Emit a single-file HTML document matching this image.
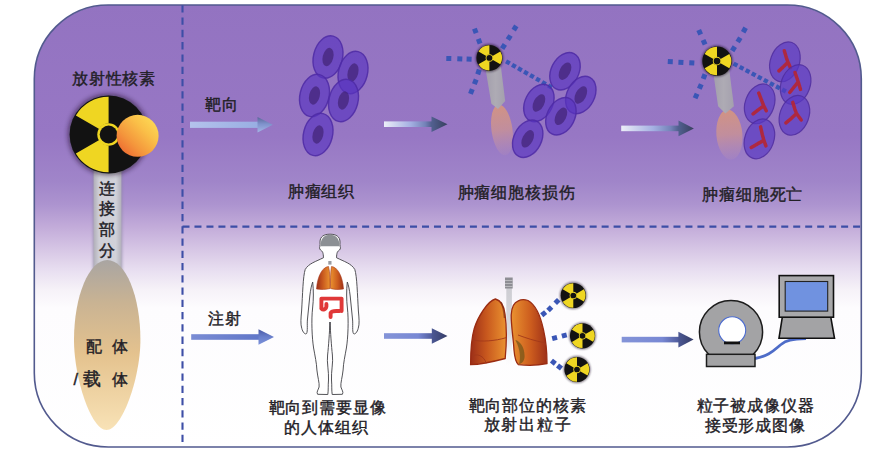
<!DOCTYPE html>
<html><head><meta charset="utf-8"><style>
html,body{margin:0;padding:0;background:#fff;}
body{width:894px;height:453px;overflow:hidden;font-family:"Liberation Sans",sans-serif;}
svg{display:block;font-family:"Liberation Sans",sans-serif;}
</style></head><body>
<svg width="894" height="453" viewBox="0 0 894 453">
<defs>
<linearGradient id="bg" x1="0" y1="0" x2="0" y2="453" gradientUnits="userSpaceOnUse"><stop offset="0" stop-color="#9373c1"/><stop offset=".3" stop-color="#9777c4"/><stop offset=".4" stop-color="#a085c9"/><stop offset=".45" stop-color="#ac93cf"/><stop offset=".5" stop-color="#c2abd9"/><stop offset=".56" stop-color="#dacbe7"/><stop offset=".6" stop-color="#e9e0f1"/><stop offset=".64" stop-color="#f6f2f8"/><stop offset=".68" stop-color="#fdfcfe"/><stop offset="1" stop-color="#fff"/></linearGradient>
<linearGradient id="a1" x1="0" x2="1"><stop offset="0" stop-color="#b4c2ec"/><stop offset="1" stop-color="#98aee2"/></linearGradient>
<linearGradient id="aD" x1="0" x2="1"><stop offset="0" stop-color="#eceef8"/><stop offset=".55" stop-color="#a4b0e2"/><stop offset=".85" stop-color="#7482b8"/><stop offset="1" stop-color="#4c5a88"/></linearGradient>
<linearGradient id="aB1" x1="0" x2="1"><stop offset="0" stop-color="#7a8cd4"/><stop offset="1" stop-color="#6076c8"/></linearGradient>
<linearGradient id="aB2" x1="0" x2="1"><stop offset="0" stop-color="#8494d8"/><stop offset=".7" stop-color="#7888d4"/><stop offset="1" stop-color="#4e5a9a"/></linearGradient>
<linearGradient id="h1" x1="0" y1="0" x2="0" y2="1"><stop offset="0" stop-color="#5a6698"/><stop offset=".45" stop-color="#7f92cc"/><stop offset="1" stop-color="#a4b6e6"/></linearGradient>
<linearGradient id="hD" x1="0" y1="0" x2="1" y2="0"><stop offset="0" stop-color="#526090"/><stop offset="1" stop-color="#38405e"/></linearGradient>
<linearGradient id="hB1" x1="0" y1="0" x2="0" y2="1"><stop offset="0" stop-color="#4a5aa6"/><stop offset=".5" stop-color="#6a80cc"/><stop offset="1" stop-color="#7c92da"/></linearGradient>
<linearGradient id="hB2" x1="0" y1="0" x2="1" y2="0"><stop offset="0" stop-color="#4c5894"/><stop offset="1" stop-color="#353c66"/></linearGradient>
<linearGradient id="ball" x1="1" y1="0" x2="0" y2="1"><stop offset="0" stop-color="#fee45a"/><stop offset=".35" stop-color="#fac048"/><stop offset=".65" stop-color="#f4963c"/><stop offset="1" stop-color="#ea582c"/></linearGradient>
<linearGradient id="ell" x1="0" y1="0" x2="0" y2="1"><stop offset="0" stop-color="#a9a5a2"/><stop offset=".25" stop-color="#c9b393"/><stop offset=".55" stop-color="#e4c28e"/><stop offset="1" stop-color="#f8e2b6"/></linearGradient>
<linearGradient id="bar" x1="0" x2="1"><stop offset="0" stop-color="#b0aeb8"/><stop offset=".2" stop-color="#cfcfd7"/><stop offset=".8" stop-color="#d1d1d9"/><stop offset="1" stop-color="#b2b0ba"/></linearGradient>
<linearGradient id="shaftg" x1="0" x2="1"><stop offset="0" stop-color="#a29eac"/><stop offset=".5" stop-color="#aeabb4"/><stop offset="1" stop-color="#a4a0ae"/></linearGradient>
<linearGradient id="peach" x1="0" y1="0" x2="0" y2="1"><stop offset="0" stop-color="#dc9878" stop-opacity=".85"/><stop offset=".5" stop-color="#d89a88" stop-opacity=".65"/><stop offset="1" stop-color="#d0a0a8" stop-opacity=".1"/></linearGradient>
<radialGradient id="lung" cx=".62" cy=".4" r=".75"><stop offset="0" stop-color="#f39a2c"/><stop offset=".55" stop-color="#e0701e"/><stop offset="1" stop-color="#b8421a"/></radialGradient>
<radialGradient id="lung2" cx=".4" cy=".4" r=".75"><stop offset="0" stop-color="#f39a2c"/><stop offset=".55" stop-color="#e0701e"/><stop offset="1" stop-color="#b8421a"/></radialGradient>
<radialGradient id="slung" cx=".55" cy=".45" r=".7"><stop offset="0" stop-color="#f0952e"/><stop offset=".6" stop-color="#d86a22"/><stop offset="1" stop-color="#a8401e"/></radialGradient>
<filter id="blurL" x="-50%" y="-50%" width="200%" height="200%"><feGaussianBlur stdDeviation="2.6"/></filter>
<filter id="blurS" x="-50%" y="-50%" width="200%" height="200%"><feGaussianBlur stdDeviation="1.3"/></filter>
<g id="rad"><circle r="1" fill="#121212"/><path d="M0.24 -0.14L0.84 -0.49A0.97 0.97 0 0 1 0.84 0.48L0.24 0.14A0.28 0.28 0 0 0 0.24 -0.14ZM0 0.28L0 0.97A0.97 0.97 0 0 1 -0.84 0.49L-0.24 0.14A0.28 0.28 0 0 0 0 0.28ZM-0.24 -0.14L-0.84 -0.49A0.97 0.97 0 0 1 -0 -0.97L-0 -0.28A0.28 0.28 0 0 0 -0.24 -0.14Z" fill="#efd622"/><circle r=".29" fill="#efd622"/><circle r=".228" fill="#121212"/></g>
<filter id="soft" x="-50%" y="-50%" width="200%" height="200%"><feGaussianBlur stdDeviation=".45"/></filter>
<path id="chrom0" d="M-0.6 -11 L1.5 -4 L3.1 0.5 L-1.5 5 L-6 9.1 M3.1 0.5 L5.5 6" fill="none" stroke="#b42636" stroke-width="3.5" stroke-linecap="round" stroke-linejoin="round" filter="url(#soft)" opacity=".92"/>
<path id="chrom1" d="M-0.6 -12 L2.6 -2.8 L-1.5 2.5 L-5.9 8 M2.6 -2.8 L4.9 4.9" fill="none" stroke="#b42636" stroke-width="3.5" stroke-linecap="round" stroke-linejoin="round" filter="url(#soft)" opacity=".92"/>
<path id="chrom2" d="M-0.9 -10.7 L2.5 -2 L4 2 L-1.5 6 L-6.6 10 M4 2 L6.5 7" fill="none" stroke="#b42636" stroke-width="3.5" stroke-linecap="round" stroke-linejoin="round" filter="url(#soft)" opacity=".92"/>
<path id="chrom3" d="M-1.6 -12.9 L0.5 -6 L2.1 -1.8 L-3 3 L-8.5 7.5 M2.1 -1.8 L6.8 4.7" fill="none" stroke="#b42636" stroke-width="3.5" stroke-linecap="round" stroke-linejoin="round" filter="url(#soft)" opacity=".92"/>
<path id="chrom4" d="M1.2 -12 L3 -4 L4.5 1.5 L-2 5 L-8.1 8.6 M4.5 1.5 L6.5 7" fill="none" stroke="#b42636" stroke-width="3.5" stroke-linecap="round" stroke-linejoin="round" filter="url(#soft)" opacity=".92"/>
</defs>
<rect x="34.3" y="5" width="827" height="442" rx="74" ry="74" fill="url(#bg)" stroke="#525a8e" stroke-width="1.6"/>
<path d="M182.5 5.3V447" stroke="#3d4ea6" stroke-width="2.1" stroke-dasharray="7.3 4.97" fill="none"/>
<path d="M182.5 226.7H861" stroke="#3d4ea6" stroke-width="2.2" stroke-dasharray="7 4.975" fill="none"/>
<text x="114" y="84" font-size="15.7" text-anchor="middle" fill="#222026" letter-spacing="0.85" font-weight="400" stroke="#222026" stroke-width="0.4">放射性核素</text>
<rect x="92.5" y="165" width="30" height="110" fill="#8a86a0" opacity=".55" filter="url(#blurS)"/>
<rect x="93.6" y="165" width="27.8" height="110" fill="url(#bar)"/>
<path d="M107.3 260C125.6 260 140.4 296 140.4 340C140.4 378 122 430 106.5 430C91 430 74 378 74 340C74 296 89 260 107.3 260Z" fill="url(#ell)"/>
<circle cx="108.6" cy="134.5" r="40.5" fill="#1a1020" opacity="0.6" filter="url(#blurL)"/><g transform="translate(108.6 134.5) scale(39)"><use href="#rad"/></g>
<circle cx="137.6" cy="135.8" r="21" fill="url(#ball)"/>
<text x="107.5" y="193.8" font-size="15.7" text-anchor="middle" fill="#222026" letter-spacing="0.85" font-weight="400" stroke="#222026" stroke-width="0.4">连</text>
<text x="107.5" y="214.2" font-size="15.7" text-anchor="middle" fill="#222026" letter-spacing="0.85" font-weight="400" stroke="#222026" stroke-width="0.4">接</text>
<text x="107.5" y="234.6" font-size="15.7" text-anchor="middle" fill="#222026" letter-spacing="0.85" font-weight="400" stroke="#222026" stroke-width="0.4">部</text>
<text x="107.5" y="255.8" font-size="15.7" text-anchor="middle" fill="#222026" letter-spacing="0.85" font-weight="400" stroke="#222026" stroke-width="0.4">分</text>
<text x="86" y="352" font-size="15.7" text-anchor="start" fill="#222026" letter-spacing="0.85" font-weight="400" stroke="#222026" stroke-width="0.4">配</text>
<text x="111.6" y="352" font-size="15.7" text-anchor="start" fill="#222026" letter-spacing="0.85" font-weight="400" stroke="#222026" stroke-width="0.4">体</text>
<text x="73.5" y="384.5" font-size="16.5" text-anchor="start" fill="#222026" letter-spacing="0.85" font-weight="400" stroke="#222026" stroke-width="0.4">/</text>
<text x="82.5" y="384.8" font-size="17.5" text-anchor="start" fill="#222026" letter-spacing="0.85" font-weight="400" stroke="#222026" stroke-width="0.4">载</text>
<text x="111.6" y="384.5" font-size="15.7" text-anchor="start" fill="#222026" letter-spacing="0.85" font-weight="400" stroke="#222026" stroke-width="0.4">体</text>
<text x="205" y="109.5" font-size="15.7" text-anchor="start" fill="#222026" letter-spacing="1.2" font-weight="400" stroke="#222026" stroke-width="0.4">靶向</text>
<rect x="190" y="121.7" width="68.5" height="6.2" fill="url(#a1)"/><path d="M257.5 117L272.8 124.8L257.5 132.6Z" fill="url(#h1)"/>
<g transform="translate(328 57) rotate(14)"><ellipse rx="14.5" ry="21.5" fill="rgba(88,52,192,.66)" stroke="rgba(78,42,165,.85)" stroke-width="1.4"/><ellipse rx="5.3" ry="9.4" fill="rgba(66,36,118,.72)"/></g>
<g transform="translate(353 72.5) rotate(14)"><ellipse rx="14.5" ry="21.5" fill="rgba(88,52,192,.66)" stroke="rgba(78,42,165,.85)" stroke-width="1.4"/><ellipse rx="5.3" ry="9.4" fill="rgba(66,36,118,.72)"/></g>
<g transform="translate(314.5 95.5) rotate(14)"><ellipse rx="14.5" ry="21.5" fill="rgba(88,52,192,.66)" stroke="rgba(78,42,165,.85)" stroke-width="1.4"/><ellipse rx="5.3" ry="9.4" fill="rgba(66,36,118,.72)"/></g>
<g transform="translate(343.5 100.5) rotate(14)"><ellipse rx="14.5" ry="21.5" fill="rgba(88,52,192,.66)" stroke="rgba(78,42,165,.85)" stroke-width="1.4"/><ellipse rx="5.3" ry="9.4" fill="rgba(66,36,118,.72)"/></g>
<g transform="translate(318 134.5) rotate(14)"><ellipse rx="14.5" ry="21.5" fill="rgba(88,52,192,.66)" stroke="rgba(78,42,165,.85)" stroke-width="1.4"/><ellipse rx="5.3" ry="9.4" fill="rgba(66,36,118,.72)"/></g>
<text x="321.5" y="196.5" font-size="15.7" text-anchor="middle" fill="#222026" letter-spacing="0.85" font-weight="400" stroke="#222026" stroke-width="0.4">肿瘤组织</text>
<rect x="384" y="121.4" width="48.5" height="5.6" fill="url(#aD)"/><path d="M431.5 116.4L447.5 124.2L431.5 132Z" fill="url(#hD)"/>
<ellipse cx="502" cy="130" rx="10.5" ry="25.5" fill="url(#peach)" transform="rotate(-8 502 130)"/>
<path d="M485.7 70L500.9 66.5L505.2 101L498 109L491.4 103.8Z" fill="url(#shaftg)"/>
<rect x="472.8" y="28.4" width="5" height="5" fill="#3a56b6" transform="rotate(69.26 475.3 30.9)"/><rect x="476.7" y="38.7" width="5" height="5" fill="#3a56b6" transform="rotate(-110.74 479.2 41.2)"/>
<rect x="512.5" y="25.5" width="5" height="5" fill="#3a56b6" transform="rotate(121.14 515 28)"/><rect x="506.7" y="35.1" width="5" height="5" fill="#3a56b6" transform="rotate(122.64 509.2 37.6)"/><rect x="501" y="44" width="5" height="5" fill="#3a56b6" transform="rotate(-57.36 503.5 46.5)"/>
<rect x="446.3" y="56" width="5" height="5" fill="#3a56b6" transform="rotate(1.56 448.8 58.5)"/><rect x="457.3" y="56.3" width="5" height="5" fill="#3a56b6" transform="rotate(2.46 459.8 58.8)"/><rect x="466.6" y="56.7" width="5" height="5" fill="#3a56b6" transform="rotate(-177.54 469.1 59.2)"/>
<rect x="476" y="69.5" width="5" height="5" fill="#3a56b6" transform="rotate(108.08 478.5 72)"/><rect x="472.8" y="79.3" width="5" height="5" fill="#3a56b6" transform="rotate(111.9 475.3 81.8)"/><rect x="468.9" y="89" width="5" height="5" fill="#3a56b6" transform="rotate(-68.1 471.4 91.5)"/>
<rect x="505.75" y="60.25" width="4.3" height="4.3" fill="#3a56b6" transform="rotate(29.79 507.9 62.4)"/><rect x="511.76" y="63.69" width="4.3" height="4.3" fill="#3a56b6" transform="rotate(29.79 513.91 65.84)"/><rect x="517.78" y="67.14" width="4.3" height="4.3" fill="#3a56b6" transform="rotate(29.79 519.93 69.29)"/><rect x="523.79" y="70.58" width="4.3" height="4.3" fill="#3a56b6" transform="rotate(29.79 525.94 72.73)"/><rect x="529.81" y="74.02" width="4.3" height="4.3" fill="#3a56b6" transform="rotate(29.79 531.96 76.17)"/><rect x="535.82" y="77.46" width="4.3" height="4.3" fill="#3a56b6" transform="rotate(29.79 537.97 79.61)"/><rect x="541.84" y="80.91" width="4.3" height="4.3" fill="#3a56b6" transform="rotate(29.79 543.99 83.06)"/><rect x="547.85" y="84.35" width="4.3" height="4.3" fill="#3a56b6" transform="rotate(-150.21 550 86.5)"/>
<g transform="translate(565 71.2) rotate(27)"><ellipse rx="13.8" ry="19.8" fill="rgba(88,52,192,.66)" stroke="rgba(78,42,165,.85)" stroke-width="1.4"/><ellipse rx="5.3" ry="9.4" fill="rgba(66,36,118,.72)"/></g>
<g transform="translate(580.8 95) rotate(27)"><ellipse rx="13.8" ry="19.8" fill="rgba(88,52,192,.66)" stroke="rgba(78,42,165,.85)" stroke-width="1.4"/><ellipse rx="5.3" ry="9.4" fill="rgba(66,36,118,.72)"/></g>
<g transform="translate(538.9 103) rotate(27)"><ellipse rx="13.8" ry="19.8" fill="rgba(88,52,192,.66)" stroke="rgba(78,42,165,.85)" stroke-width="1.4"/><ellipse rx="5.3" ry="9.4" fill="rgba(66,36,118,.72)"/></g>
<g transform="translate(560.9 116.3) rotate(27)"><ellipse rx="13.8" ry="19.8" fill="rgba(88,52,192,.66)" stroke="rgba(78,42,165,.85)" stroke-width="1.4"/><ellipse rx="5.3" ry="9.4" fill="rgba(66,36,118,.72)"/></g>
<g transform="translate(527.7 138.8) rotate(27)"><ellipse rx="13.8" ry="19.8" fill="rgba(88,52,192,.66)" stroke="rgba(78,42,165,.85)" stroke-width="1.4"/><ellipse rx="5.3" ry="9.4" fill="rgba(66,36,118,.72)"/></g>
<circle cx="489.4" cy="57.9" r="13.8" fill="#1a1020" opacity="0.6" filter="url(#blurS)"/><g transform="translate(489.4 57.9) scale(13)"><use href="#rad"/></g>
<text x="516.5" y="198" font-size="15.7" text-anchor="middle" fill="#222026" letter-spacing="0.85" font-weight="400" stroke="#222026" stroke-width="0.4">肿瘤细胞核损伤</text>
<rect x="621.2" y="125.6" width="58.3" height="5.6" fill="url(#aD)"/><path d="M678.5 120.6L693.9 128.4L678.5 136.2Z" fill="url(#hD)"/>
<ellipse cx="729.4" cy="134.7" rx="13" ry="25" fill="url(#peach)" transform="rotate(-5 729.4 134.7)"/>
<path d="M713.2 72L729 67.5L733.9 106.2L725.4 113.5L718.1 106.2Z" fill="url(#shaftg)"/>
<rect x="697.2" y="29.8" width="5" height="5" fill="#3a56b6" transform="rotate(66.04 699.7 32.3)"/><rect x="701.6" y="39.7" width="5" height="5" fill="#3a56b6" transform="rotate(-113.96 704.1 42.2)"/>
<rect x="741.9" y="27.5" width="5" height="5" fill="#3a56b6" transform="rotate(118.61 744.4 30)"/><rect x="736.5" y="37.4" width="5" height="5" fill="#3a56b6" transform="rotate(121.72 739 39.9)"/><rect x="731" y="46.3" width="5" height="5" fill="#3a56b6" transform="rotate(-58.28 733.5 48.8)"/>
<rect x="667.8" y="59.2" width="5" height="5" fill="#3a56b6" transform="rotate(3.24 670.3 61.7)"/><rect x="678.4" y="59.8" width="5" height="5" fill="#3a56b6" transform="rotate(3.15 680.9 62.3)"/><rect x="689.3" y="60.4" width="5" height="5" fill="#3a56b6" transform="rotate(-176.85 691.8 62.9)"/>
<rect x="701.6" y="74.1" width="5" height="5" fill="#3a56b6" transform="rotate(111 704.1 76.6)"/><rect x="697.8" y="84" width="5" height="5" fill="#3a56b6" transform="rotate(113.85 700.3 86.5)"/><rect x="693.6" y="93.5" width="5" height="5" fill="#3a56b6" transform="rotate(-66.15 696.1 96)"/>
<rect x="733.35" y="62.55" width="4.3" height="4.3" fill="#3a56b6" transform="rotate(28.01 735.5 64.7)"/><rect x="739.41" y="65.77" width="4.3" height="4.3" fill="#3a56b6" transform="rotate(28.01 741.56 67.92)"/><rect x="745.48" y="69" width="4.3" height="4.3" fill="#3a56b6" transform="rotate(28.01 747.62 71.15)"/><rect x="751.54" y="72.22" width="4.3" height="4.3" fill="#3a56b6" transform="rotate(28.01 753.69 74.38)"/><rect x="757.6" y="75.45" width="4.3" height="4.3" fill="#3a56b6" transform="rotate(28.01 759.75 77.6)"/><rect x="763.66" y="78.67" width="4.3" height="4.3" fill="#3a56b6" transform="rotate(28.01 765.81 80.83)"/><rect x="769.73" y="81.9" width="4.3" height="4.3" fill="#3a56b6" transform="rotate(28.01 771.88 84.05)"/><rect x="775.79" y="85.12" width="4.3" height="4.3" fill="#3a56b6" transform="rotate(28.01 777.94 87.28)"/><rect x="781.85" y="88.35" width="4.3" height="4.3" fill="#3a56b6" transform="rotate(-151.99 784 90.5)"/>
<g transform="translate(784.9 61.8) rotate(20)"><ellipse rx="14.5" ry="20.5" fill="rgba(88,56,194,.68)" stroke="rgba(78,44,158,.82)" stroke-width="1.2"/></g><use href="#chrom0" transform="translate(784.9 61.8)"/>
<g transform="translate(795.6 84.5) rotate(20)"><ellipse rx="14.5" ry="20.5" fill="rgba(88,56,194,.68)" stroke="rgba(78,44,158,.82)" stroke-width="1.2"/></g><use href="#chrom1" transform="translate(795.6 84.5)"/>
<g transform="translate(759.7 103.8) rotate(20)"><ellipse rx="14.5" ry="20.5" fill="rgba(88,56,194,.68)" stroke="rgba(78,44,158,.82)" stroke-width="1.2"/></g><use href="#chrom2" transform="translate(759.7 103.8)"/>
<g transform="translate(794.4 115.3) rotate(20)"><ellipse rx="14.5" ry="20.5" fill="rgba(88,56,194,.68)" stroke="rgba(78,44,158,.82)" stroke-width="1.2"/></g><use href="#chrom3" transform="translate(794.4 115.3)"/>
<g transform="translate(759.4 138.9) rotate(20)"><ellipse rx="14.5" ry="20.5" fill="rgba(88,56,194,.68)" stroke="rgba(78,44,158,.82)" stroke-width="1.2"/></g><use href="#chrom4" transform="translate(759.4 138.9)"/>
<circle cx="717" cy="61.1" r="15.5" fill="#1a1020" opacity="0.6" filter="url(#blurS)"/><g transform="translate(717 61.1) scale(14.7)"><use href="#rad"/></g>
<text x="752.8" y="200" font-size="15.7" text-anchor="middle" fill="#222026" letter-spacing="0.85" font-weight="400" stroke="#222026" stroke-width="0.4">肿瘤细胞死亡</text>
<text x="208" y="323.5" font-size="15.7" text-anchor="start" fill="#222026" letter-spacing="0.85" font-weight="400" stroke="#222026" stroke-width="0.4">注射</text>
<rect x="191.2" y="334.2" width="68.3" height="5.6" fill="url(#aB1)"/><path d="M258.5 329.2L274 337L258.5 344.8Z" fill="url(#hB1)"/>
<path d="M330 234.2C324 234.2 320 236.5 320 242C320 244 320.2 245.5 319.8 246.5C319 248 320 250 321.5 250.8C322.6 251.4 323.3 253 323.5 257.7C316 261.5 308.5 263.5 305.2 269.5C303 276 302.6 295 301.6 311C301 318 300.3 324 301.8 328.5C302.8 332 305 335 306.6 333.5C307.8 331 307 325 307.4 320L309.8 296C310.5 290 311.5 285 312.7 282C313.6 290 313.6 300 312.6 308C311.2 320 312 338 313.6 348C315 356 316.6 363 316.9 370C317.6 377 319.6 383 319.1 387C318.2 390 316.2 392 317.6 394.3L327.8 394.5C328.5 390 328 386 328.5 380C329 372 326.6 362 327.6 355C328.6 346 329.5 332 330 322C330.5 332 331.4 346 332.4 355C333.4 362 331 372 331.5 380C332 386 331.5 390 332.2 394.5L342.4 394.3C343.8 392 341.8 390 340.9 387C340.4 383 342.4 377 343.1 370C343.4 363 345 356 346.4 348C348 338 348.8 320 347.4 308C346.4 300 346.4 290 347.3 282C348.5 285 349.5 290 350.2 296L352.6 320C353 325 352.2 331 353.4 333.5C355 335 357.2 332 358.2 328.5C359.7 324 359 318 358.4 311C357.4 295 357 276 354.8 269.5C351.5 263.5 344 261.5 336.5 257.7C336.7 253 337.4 251.4 338.5 250.8C340 250 341 248 340.2 246.5C339.8 245.5 340 244 340 242C340 236.5 336 234.2 330 234.2Z" fill="#fff" stroke="#4a4a4e" stroke-width=".95"/>
<path d="M330 322L330 330" stroke="#4a4a4e" stroke-width=".8" fill="none"/>
<path d="M320.6 246.2C320.4 239 323.8 234.8 330 234.8C336.2 234.8 339.6 239 339.4 246.2Z" fill="#8c9094"/>
<rect x="328.3" y="261" width="3.2" height="3.6" fill="#9a9ca2"/>
<path d="M328.5 266.5C323 267 317.5 275 316.5 289C321 289.8 326 289.5 330 288.5C330.2 282 330 272 328.5 266.5Z" fill="url(#lgL)" stroke="#a8381a" stroke-width=".6"/>
<path d="M331.5 266.5C337 267 342.5 275 343.5 289C339 289.8 334 289.5 330.6 288.5C330.4 282 330.4 272 331.5 266.5Z" fill="url(#lgR)" stroke="#a8381a" stroke-width=".6"/>
<path d="M341.6 311V298.6H321.4V308.6M340.6 310.8C336 311.4 332 310 330.6 313V317M321.4 308.6C323 310.2 326 309.8 326.4 306.6V304" fill="none" stroke="#e03838" stroke-width="3.9" stroke-linejoin="round" stroke-linecap="round"/>
<text x="327.6" y="412.5" font-size="15.7" text-anchor="middle" fill="#222026" letter-spacing="0.85" font-weight="400" stroke="#222026" stroke-width="0.4">靶向到需要显像</text>
<text x="326.3" y="432.5" font-size="15.7" text-anchor="middle" fill="#222026" letter-spacing="0.85" font-weight="400" stroke="#222026" stroke-width="0.4">的人体组织</text>
<rect x="384" y="333.2" width="48.8" height="5.6" fill="url(#aB2)"/><path d="M431.8 328.2L447.5 336L431.8 343.8Z" fill="url(#hB2)"/>
<linearGradient id="trach" x1="0" y1="0" x2="0" y2="1"><stop offset="0" stop-color="#cdcdd2"/><stop offset=".6" stop-color="#dadade"/><stop offset="1" stop-color="#f4f4f6" stop-opacity="0"/></linearGradient>
<rect x="506.3" y="286" width="5.6" height="80" fill="url(#trach)"/>
<path d="M505 277.5H512.7V288.5H505Z" fill="#8e8e94"/>
<path d="M505 280.5H512.7M505 283.5H512.7M505 286.5H512.7" stroke="#c4c4c8" stroke-width=".8"/>
<linearGradient id="lgL" x1="0" y1="0" x2="1" y2="0"><stop offset="0" stop-color="#9c2e18"/><stop offset=".45" stop-color="#c8581e"/><stop offset="1" stop-color="#ea9230"/></linearGradient>
<linearGradient id="lgR" x1="0" y1="0" x2="1" y2="0"><stop offset="0" stop-color="#ea9230"/><stop offset=".55" stop-color="#cc5c1e"/><stop offset="1" stop-color="#9e3018"/></linearGradient>
<path d="M495.4 299C488 301 478 316 474.2 328.7C471.5 338 470.6 352 470.6 364.6C478 364.5 492 362 505.2 358.5C506.5 345 506.5 325 505 314C504 306 501 300.5 495.4 299Z" fill="url(#lgL)" stroke="#9a2c12" stroke-width="1.3"/>
<path d="M518.3 300.9C521 299.5 525 299.5 528 300.5C536 305 541 318 543.5 330C546 341 547 354 547 363.5C538 365.5 526 365.5 518.3 364.6C515.5 362 514.5 356 514 350C513.5 340 511 325 511.2 315C511.5 308 514 302.5 518.3 300.9Z" fill="url(#lgR)" stroke="#9a2c12" stroke-width="1.3"/>
<path d="M515.3 340C520 341 524.6 347 524.6 356C524.6 360 523 363 519 364.2C520.5 360 521 350 515.3 340Z" fill="#6e5418" opacity=".7"/>
<path d="M501 302C503 306 504 312 504.5 318" stroke="#7a2a10" stroke-width="1.6" opacity=".6" fill="none"/>
<path d="M472 340C482 342 495 341 506 337.7M472.5 356C480 352 486 360 486 363.5" fill="none" stroke="#a2381a" stroke-width=".9"/>
<path d="M518 335C526 338 535 341 545 342.8" fill="none" stroke="#a2381a" stroke-width=".9"/>
<rect x="541.2" y="311.2" width="5" height="5" fill="#3a56b6" transform="rotate(-38.77 543.7 313.7)"/><rect x="547.3" y="306.3" width="5" height="5" fill="#3a56b6" transform="rotate(-45.4 549.8 308.8)"/><rect x="554.5" y="299" width="5" height="5" fill="#3a56b6" transform="rotate(134.6 557 301.5)"/>
<rect x="552.1" y="335.5" width="5" height="5" fill="#3a56b6" transform="rotate(-14.45 554.6 338)"/><rect x="561.8" y="333" width="5" height="5" fill="#3a56b6" transform="rotate(165.55 564.3 335.5)"/>
<rect x="550.9" y="359.7" width="5" height="5" fill="#3a56b6" transform="rotate(38.2 553.4 362.2)"/><rect x="557" y="364.5" width="5" height="5" fill="#3a56b6" transform="rotate(-141.8 559.5 367)"/>
<circle cx="573.3" cy="295.5" r="13.4" fill="#1a1020" opacity="0.6" filter="url(#blurS)"/><g transform="translate(573.3 295.5) scale(12.6)"><use href="#rad"/></g>
<circle cx="582.5" cy="335.8" r="13.4" fill="#1a1020" opacity="0.6" filter="url(#blurS)"/><g transform="translate(582.5 335.8) scale(12.6)"><use href="#rad"/></g>
<circle cx="577" cy="369.5" r="13.4" fill="#1a1020" opacity="0.6" filter="url(#blurS)"/><g transform="translate(577 369.5) scale(12.6)"><use href="#rad"/></g>
<text x="527.5" y="411" font-size="15.7" text-anchor="middle" fill="#222026" letter-spacing="0.85" font-weight="400" stroke="#222026" stroke-width="0.4">靶向部位的核素</text>
<text x="528" y="430.2" font-size="15.7" text-anchor="middle" fill="#222026" letter-spacing="1.8" font-weight="400" stroke="#222026" stroke-width="0.4">放射出粒子</text>
<rect x="621.7" y="336.8" width="57.7" height="5.6" fill="url(#aB2)"/><path d="M678.4 331.8L693.6 339.6L678.4 347.4Z" fill="url(#hB2)"/>
<path d="M755 358.5C770 356 775 349 781 344.5C786 340.5 792 339 806 338.6" fill="none" stroke="#4e6cc8" stroke-width="2.8"/>
<circle cx="731" cy="332" r="31.6" fill="#a3a3a5" stroke="#1c1c1c" stroke-width="1.5"/>
<circle cx="732.2" cy="330.3" r="13.5" fill="#fff" stroke="#4c6cd0" stroke-width="1.1"/>
<rect x="724" y="341.5" width="16" height="2.8" fill="#111"/>
<rect x="706.5" y="354.3" width="48.5" height="12.2" fill="#a3a3a5" stroke="#1c1c1c" stroke-width="1.5"/>
<path d="M782.3 317.2H830.8L834.5 338.3H779Z" fill="#a3a3a5" stroke="#111" stroke-width="1.6"/>
<rect x="779.2" y="275.6" width="54.3" height="41.6" fill="#a8a8aa" stroke="#111" stroke-width="1.6"/>
<rect x="785.2" y="281.5" width="42.5" height="29.6" fill="#7092e0" stroke="#222" stroke-width="1.1"/>
<text x="755.6" y="411" font-size="15.7" text-anchor="middle" fill="#222026" letter-spacing="0.85" font-weight="400" stroke="#222026" stroke-width="0.4">粒子被成像仪器</text>
<text x="755.3" y="430.5" font-size="15.7" text-anchor="middle" fill="#222026" letter-spacing="0.85" font-weight="400" stroke="#222026" stroke-width="0.4">接受形成图像</text>
</svg>
</body></html>
